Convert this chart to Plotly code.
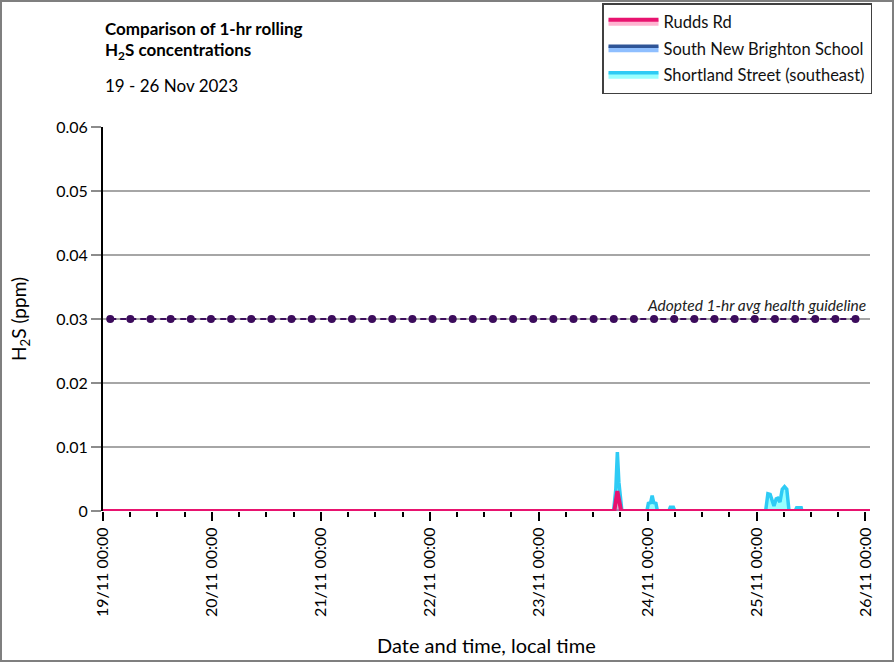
import plotly.graph_objects as go
import pandas as pd

# ---------------- data ----------------
x_start = "2023-11-19 00:00"
x_end = "2023-11-26 01:00"
day_ticks = ["2023-11-19", "2023-11-20", "2023-11-21", "2023-11-22",
             "2023-11-23", "2023-11-24", "2023-11-25", "2023-11-26"]
y_ticks = [0, 0.01, 0.02, 0.03, 0.04, 0.05, 0.06]
y_ticktext = ["0", "0.01", "0.02", "0.03", "0.04", "0.05", "0.06"]

rudds_t = ["2023-11-19 00:00", "2023-11-23 16:40", "2023-11-23 17:20",
           "2023-11-23 18:10", "2023-11-26 01:00"]
rudds_v = [0, 0, 0.0031, 0, 0]

snb_t = ["2023-11-19 00:00", "2023-11-26 01:00"]
snb_v = [0, 0]

short_t = ["2023-11-19 00:00",
           "2023-11-23 16:30", "2023-11-23 17:00", "2023-11-23 17:20",
           "2023-11-23 17:40", "2023-11-23 18:20",
           "2023-11-23 23:50", "2023-11-24 00:10", "2023-11-24 00:40",
           "2023-11-24 01:00", "2023-11-24 01:20", "2023-11-24 01:50",
           "2023-11-24 02:10",
           "2023-11-24 04:40", "2023-11-24 05:00", "2023-11-24 05:40",
           "2023-11-24 06:00",
           "2023-11-25 02:00", "2023-11-25 02:30", "2023-11-25 03:00",
           "2023-11-25 03:50", "2023-11-25 04:20", "2023-11-25 04:40",
           "2023-11-25 05:10", "2023-11-25 05:40", "2023-11-25 06:10",
           "2023-11-25 06:40", "2023-11-25 07:10",
           "2023-11-25 08:30", "2023-11-25 08:50", "2023-11-25 09:50",
           "2023-11-25 10:00",
           "2023-11-26 01:00"]
short_v = [0,
           0, 0.0035, 0.0092, 0.0045, 0,
           0, 0.0012, 0.0013, 0.0024, 0.0013, 0.0012, 0,
           0, 0.0006, 0.0006, 0,
           0, 0.0027, 0.0026, 0.0008, 0.0019, 0.002, 0.0014, 0.0034,
           0.0038, 0.0034, 0,
           0, 0.0005, 0.0005, 0,
           0]

guide_value = 0.03
guide_first = "2023-11-19 01:36"
guide_last = "2023-11-25 21:48"
guide_points = 38
guide_t = pd.date_range(guide_first, guide_last, periods=guide_points)
guide_v = [guide_value] * guide_points

# ---------------- geometry ----------------
W, H = 894, 662
L, R, T, B = 103, 870, 127, 511
pw, ph = R - L, B - T


def px(x):
    return (x - L) / pw


def py(y):
    return (B - y) / ph


FONT = "Lato"

fig = go.Figure()

fig.add_trace(go.Scatter(
    x=short_t, y=short_v, name="Shortland Street (southeast)",
    mode="lines", fill="tozeroy", fillcolor="rgba(128,255,255,0.8)",
    line=dict(color="#2ECBF5", width=3.5), legendrank=3, legendgroup="c"))
fig.add_trace(go.Scatter(
    x=snb_t, y=snb_v, name="South New Brighton School",
    mode="lines", fill="tozeroy", fillcolor="#8FBFFF",
    line=dict(color="#2F5597", width=3.5), legendrank=2, legendgroup="b"))
fig.add_trace(go.Scatter(
    x=rudds_t, y=rudds_v, name="Rudds Rd",
    mode="lines", fill="tozeroy", fillcolor="rgba(255,128,176,0.6)",
    line=dict(color="#E8136F", width=4), legendrank=1, legendgroup="a"))
fig.add_trace(go.Scatter(
    x=guide_t, y=guide_v, mode="lines+markers", showlegend=False,
    line=dict(color="#3C0C5C", width=2, dash="6px,4px"),
    marker=dict(color="#3C0C5C", size=8)))

fig.update_layout(
    width=W, height=H,
    margin=dict(l=L, r=W - R, t=T, b=H - B, autoexpand=False),
    paper_bgcolor="white", plot_bgcolor="white",
    font=dict(family=FONT, size=16, color="black"),
    showlegend=True,
    legend=dict(x=px(602), y=py(3), xanchor="left", yanchor="top",
                bgcolor="white", bordercolor="#404040", borderwidth=1.5,
                font=dict(family=FONT, size=16.5, color="#111"),
                itemwidth=50, tracegroupgap=2),
)

fig.update_xaxes(
    type="date", range=[x_start, x_end],
    tickmode="array", tickvals=day_ticks, tickformat="%d/%m %H:%M",
    tickangle=-90, ticks="outside", ticklen=9, tickwidth=1.5, tickcolor="black",
    tickfont=dict(family=FONT, size=16),
    minor=dict(dtick=6 * 3600 * 1000, ticks="outside", ticklen=5,
               tickwidth=1.5, tickcolor="black", showgrid=False),
    showgrid=False, showline=False, zeroline=False, automargin=False,
)
fig.update_yaxes(
    range=[0, 0.06], tickmode="array", tickvals=y_ticks, ticktext=y_ticktext,
    ticks="outside", ticklen=10, tickwidth=1.5, tickcolor="#8c8c8c",
    tickfont=dict(family=FONT, size=16),
    showgrid=True, gridcolor="#A6A6A6", gridwidth=1.5,
    showline=True, linecolor="black", linewidth=2, zeroline=False,
    automargin=False,
)

annotations = [
    dict(text="<b>Comparison of 1-hr rolling</b>", x=0, y=py(28),
         font=dict(family=FONT, size=17)),
    dict(text="<b>H<sub>2</sub>S concentrations</b>", x=0, y=py(51),
         font=dict(family=FONT, size=17)),
    dict(text="19 - 26 Nov 2023", x=0, y=py(85),
         font=dict(family=FONT, size=17)),
]
for a in annotations:
    a.update(xref="paper", yref="paper", xanchor="left", yanchor="middle",
             showarrow=False)
fig.update_layout(annotations=annotations)

fig.add_annotation(text="<i>Adopted 1-hr avg health guideline</i>",
                   xref="paper", yref="paper", x=px(868), y=py(305),
                   xanchor="right", yanchor="middle", showarrow=False,
                   font=dict(family=FONT, size=15.5, color="#222"))
fig.add_annotation(text="Date and time, local time", xref="paper", yref="paper",
                   x=0.5, y=py(645), xanchor="center", yanchor="middle",
                   showarrow=False, font=dict(family=FONT, size=20))
fig.add_annotation(text="H<sub>2</sub>S (ppm)", xref="paper", yref="paper",
                   x=px(20), y=py(319), xanchor="center", yanchor="middle",
                   textangle=-90, showarrow=False,
                   font=dict(family=FONT, size=19))

fig.add_shape(type="rect", xref="paper", yref="paper",
              x0=px(1), x1=px(893), y0=py(661), y1=py(1),
              line=dict(color="#7F7F7F", width=2), fillcolor="rgba(0,0,0,0)")

fig.write_html("out.html", config={"displayModeBar": False},
               post_script="document.body.style.margin='0';"
                           "document.body.style.padding='0';"
                           "document.body.style.overflow='hidden';")
